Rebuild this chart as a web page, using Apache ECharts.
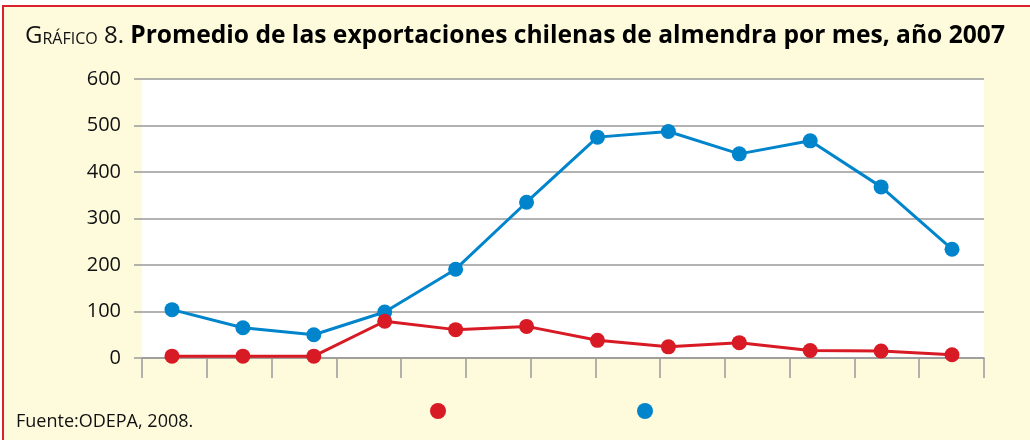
<!DOCTYPE html>
<html>
<head>
<meta charset="utf-8">
<script src="https://cdn.jsdelivr.net/npm/echarts@6/dist/echarts.min.js"></script>
<style>
	html, body { margin: 0; padding: 0; background: #fff; }
	#chart {
		position: absolute;
		left: 2px;
		top: 5px;
		width: 1028px;
		height: 435px;
		border-left: 2px solid #d9222d;
		border-top: 2px solid #d9222d;
		background: #fefadc;
	}
</style>
</head>
<body>
<div id="chart"></div>
<script>
// meses del año 2007
var meses = ['Ene', 'Feb', 'Mar', 'Abr', 'May', 'Jun', 'Jul', 'Ago', 'Sep', 'Oct', 'Nov', 'Dic'];
// serie azul
var serieAzul = [104, 65, 50, 99, 191, 335, 475, 487, 439, 467, 368, 234];
// serie roja
var serieRoja = [4, 4, 4, 79, 61, 68, 38, 24, 33, 16, 15, 7];
// marcas del eje x (13 divisiones sin texto)
var marcasX = ['', '', '', '', '', '', '', '', '', '', '', '', ''];

var fuente = '"Open Sans", Lato, sans-serif';

function toPoints(values) {
	var pts = [];
	for (var i = 0; i < values.length; ++i) {
		pts.push([i + 1, values[i]]);
	}
	return pts;
}

var myChart = echarts.init(document.getElementById('chart'));

var option = {
	backgroundColor: 'transparent',
	animation: false,
	title: {
		left: 16,
		top: 6,
		text: '{a|G}{b|RÁFICO}{a| 8. }{d|Promedio de las exportaciones chilenas de almendra por mes, año 2007}',
		textStyle: {
			rich: {
				a: { fontFamily: fuente, fontSize: 24, lineHeight: 30, verticalAlign: 'bottom', color: '#111', fontWeight: 'normal' },
				b: { fontFamily: fuente, fontSize: 16, lineHeight: 30, verticalAlign: 'bottom', color: '#111', fontWeight: 'normal', padding: [0, 0, 1, 0] },
				d: { fontFamily: fuente, fontSize: 24.6, lineHeight: 30, verticalAlign: 'bottom', color: '#000', fontWeight: 'bold' }
			}
		}
	},
	legend: [{
		data: ['Serie roja'],
		left: 421,
		top: 391,
		icon: 'circle',
		itemWidth: 16,
		itemHeight: 16,
		formatter: function() { return ''; }
	}, {
		data: ['Serie azul'],
		left: 628,
		top: 391,
		icon: 'circle',
		itemWidth: 16,
		itemHeight: 16,
		formatter: function() { return ''; }
	}],
	graphic: [{
		type: 'text',
		left: 12,
		top: 406,
		style: {
			text: 'Fuente:ODEPA, 2008.',
			font: '18px ' + fuente,
			fill: '#111'
		}
	}],
	grid: {
		left: 138,
		top: 72,
		width: 842,
		height: 279,
		show: true,
		backgroundColor: '#fff',
		borderWidth: 0
	},
	xAxis: [{
		type: 'category',
		data: marcasX,
		boundaryGap: true,
		axisLine: { lineStyle: { color: '#999', width: 1.5 } },
		axisTick: { show: true, length: 20, alignWithLabel: false, lineStyle: { color: '#999', width: 1.5 } },
		axisLabel: { show: false },
		splitLine: { show: false }
	}, {
		type: 'value',
		min: 0.577,
		max: 12.451,
		show: false,
		splitLine: { show: false }
	}],
	yAxis: {
		type: 'value',
		min: 0,
		max: 600,
		interval: 100,
		axisLine: { show: false },
		axisTick: { show: true, length: 8, lineStyle: { color: '#999', width: 1.5 } },
		axisLabel: { margin: 21, fontFamily: fuente, fontSize: 20, color: '#111' },
		splitLine: { lineStyle: { color: '#999', width: 1.5 } }
	},
	series: [{
		name: 'Serie azul',
		type: 'line',
		xAxisIndex: 1,
		data: toPoints(serieAzul),
		symbol: 'circle',
		symbolSize: 15,
		color: '#0085cc',
		lineStyle: { width: 3 }
	}, {
		name: 'Serie roja',
		type: 'line',
		xAxisIndex: 1,
		data: toPoints(serieRoja),
		symbol: 'circle',
		symbolSize: 15,
		color: '#d71a23',
		lineStyle: { width: 3 }
	}]
};

myChart.setOption(option);
</script>
</body>
</html>
